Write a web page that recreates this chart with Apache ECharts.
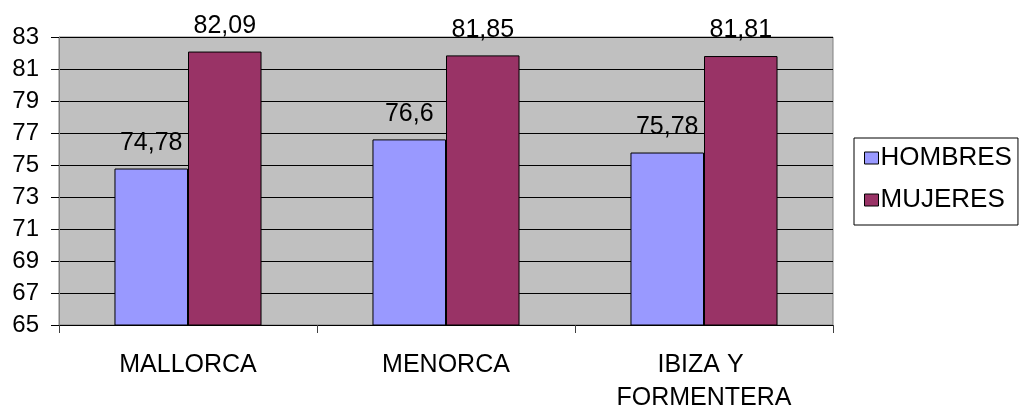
<!DOCTYPE html>
<html>
<head>
<meta charset="utf-8">
<script src="https://cdn.jsdelivr.net/npm/echarts@6/dist/echarts.min.js"></script>
<style>
  html, body { margin: 0; padding: 0; background: #fff; }
  #chart { width: 1019px; height: 407px; }
</style>
</head>
<body>
<div id="chart"></div>
<script>
// Esperanza de vida por isla y sexo
const categories = ['MALLORCA', 'MENORCA', 'IBIZA Y FORMENTERA'];
const hombres = [74.78, 76.6, 75.78];
const mujeres = [82.09, 81.85, 81.81];
const seriesNames = ['HOMBRES', 'MUJERES'];
const yMin = 65, yMax = 83, yStep = 2;

const FONT = '"Liberation Sans", Arial, sans-serif';
const fmtComma = p => String(p.value).replace('.', ',');

const chart = echarts.init(document.getElementById('chart'), null, { renderer: 'canvas' });

const labelStyle = {
  show: true,
  position: 'top',
  distance: 13,
  fontFamily: FONT,
  fontSize: 25,
  color: '#000',
  formatter: fmtComma
};

chart.setOption({
  animation: false,
  grid: {
    left: 59, top: 37, width: 774, height: 288,
    containLabel: false,
    outerBoundsMode: 'none',
    show: true,
    backgroundColor: '#C0C0C0',
    borderColor: '#808080',
    borderWidth: 1
  },
  legend: {
    orient: 'vertical',
    left: 854, top: 138,
    width: 164,
    data: seriesNames,
    icon: 'rect',
    itemWidth: 14,
    itemHeight: 12,
    itemGap: 16,
    padding: [7, 6, 12, 10],
    borderColor: '#000',
    borderWidth: 1,
    itemStyle: { borderColor: '#000', borderWidth: 1 },
    textStyle: { fontFamily: FONT, fontSize: 26, color: '#000', padding: [0, 0, 0, -3] }
  },
  xAxis: {
    type: 'category',
    data: categories,
    boundaryGap: true,
    axisLine: { lineStyle: { color: '#000', width: 1 } },
    axisTick: { show: true, inside: false, length: 8, lineStyle: { color: '#404040' } },
    axisLabel: {
      fontFamily: FONT, fontSize: 25, color: '#000',
      margin: 24,
      lineHeight: 33,
      width: 210,
      overflow: 'break',
      interval: 0
    }
  },
  yAxis: {
    type: 'value',
    min: yMin, max: yMax, interval: yStep,
    axisLine: { show: true, lineStyle: { color: '#808080', width: 1 } },
    axisTick: { show: true, length: 8, lineStyle: { color: '#000' } },
    axisLabel: { fontFamily: FONT, fontSize: 24, color: '#000', margin: 20 },
    splitLine: { show: true, lineStyle: { color: '#000', width: 1 } }
  },
  series: [
    {
      name: seriesNames[0],
      type: 'bar',
      data: hombres,
      barGap: '0%',
      barCategoryGap: '43%',
      itemStyle: { color: '#9999FF', borderColor: '#000', borderWidth: 1 },
      label: labelStyle
    },
    {
      name: seriesNames[1],
      type: 'bar',
      data: mujeres,
      barGap: '0%',
      barCategoryGap: '43%',
      itemStyle: { color: '#993366', borderColor: '#000', borderWidth: 1 },
      label: labelStyle
    }
  ]
});
</script>
</body>
</html>
